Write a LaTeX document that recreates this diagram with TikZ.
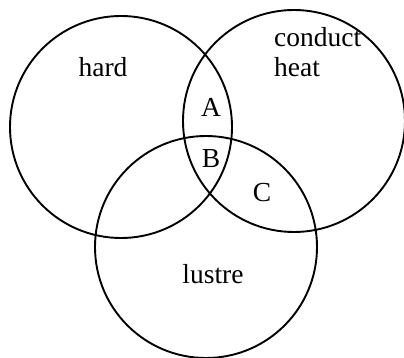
\documentclass[tikz,border=0pt]{standalone}
\usepackage{fontspec}
\setmainfont{Liberation Serif}
\usetikzlibrary{positioning}

\begin{document}
\begin{tikzpicture}[x=1pt, y=-1pt,
        setcircle/.style={draw, circle, line width=1.9pt, minimum size=222pt, inner sep=0pt},
        setlabel/.style={font=\fontsize{27.5}{30}\selectfont, anchor=base, inner sep=0pt},
    ]
    \useasboundingbox (0,0) rectangle (404,358);

    % the three sets
    \node[setcircle] (hardset) at (121,127) {};
    \node[setcircle] (heatset) at (294,121) {};
    \node[setcircle] (lustreset) at (206,247) {};

    % set names
    \node[setlabel] (hardtext) at (103,77) {hard};
    \node[setlabel, anchor=base west, align=left] (heattext) at (274,77) {conduct\\heat};
    \node[setlabel] (lustretext) at (213,283) {lustre};

    % regions
    \node[setlabel] (regA) at (211,117) {A};
    \node[setlabel] (regB) at (211,168) {B};
    \node[setlabel] (regC) at (262,201) {C};
\end{tikzpicture}
\end{document}
